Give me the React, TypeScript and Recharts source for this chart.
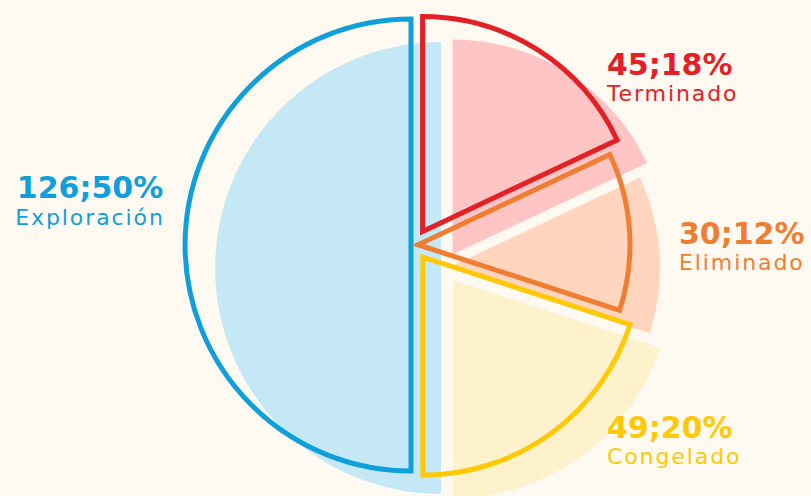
import React from 'react';
import { PieChart, Pie, Cell } from 'recharts';

// status breakdown
const categories = ['Exploración', 'Terminado', 'Eliminado', 'Congelado'];
const counts = [126, 45, 30, 49];
const shares = [50, 18, 12, 20];

const data = categories.map((name, i) => ({ name, count: counts[i], share: shares[i] }));

// styles
const LINE = ['#0fa0dc', '#e42027', '#ef7e32', '#ffc905'];
const FILL = ['#c5e8f6', '#ffc5c5', '#ffd5bd', '#fdf2cb'];
const BG = '#fffaf1';

const CENTER = { x: 414, y: 245 };
const SHADOW = { dx: 30, dy: 23 };
const EXPLODE = [3, 16, 4, 15];
const RADIUS = [226, 215, 212, 218];
const START = 270;
const END = -90;

const LABEL_AT = [
  { x: 90, y: 198, gap: 27, anchor: 'middle' },
  { x: 607, y: 75, gap: 26, anchor: 'start' },
  { x: 679, y: 244, gap: 26, anchor: 'start' },
  { x: 607, y: 438, gap: 26, anchor: 'start' },
];

const total = shares.reduce((a, b) => a + b, 0);

// where each slice gets pushed out to, along its middle angle
const sliceCenter = (i: number) => {
  const before = shares.slice(0, i).reduce((a, b) => a + b, 0);
  const mid = START - (360 * (before + shares[i] / 2)) / total;
  const rad = (mid * Math.PI) / 180;
  return {
    x: CENTER.x + EXPLODE[i] * Math.cos(rad),
    y: CENTER.y - EXPLODE[i] * Math.sin(rad),
  };
};

const makeLabel = (i: number) => (props: any) => {
  if (props.index !== i) return null;
  const p = LABEL_AT[i];
  return (
    <text x={p.x} y={p.y} textAnchor={p.anchor} fill={LINE[i]} fontFamily="DejaVu Sans">
      <tspan x={p.x} fontSize={30} fontWeight={700}>
        {`${counts[i]};${shares[i]}%`}
      </tspan>
      <tspan x={p.x} dy={p.gap} fontSize={22} letterSpacing={1.9}>
        {categories[i]}
      </tspan>
    </text>
  );
};

export default function App() {
  return (
    <div style={{ width: 811, height: 496, background: BG }}>
      <style>{`body{margin:0;background:${BG};}`}</style>
      <PieChart width={811} height={496} margin={{ top: 0, right: 0, bottom: 0, left: 0 }}>
        {/* offset light fills */}
        {categories.map((_, i) => {
          const c = sliceCenter(i);
          return (
            <Pie
              key={`fill-${i}`}
              data={data}
              dataKey="share"
              nameKey="name"
              cx={c.x + SHADOW.dx}
              cy={c.y + SHADOW.dy}
              innerRadius={0}
              outerRadius={RADIUS[i]}
              startAngle={START}
              endAngle={END}
              stroke="none"
              isAnimationActive={false}
            >
              {data.map((_, j) => (
                <Cell key={j} fill={j === i ? FILL[i] : 'none'} stroke="none" />
              ))}
            </Pie>
          );
        })}
        {/* outlined slices on top */}
        {categories.map((_, i) => {
          const c = sliceCenter(i);
          return (
            <Pie
              key={`line-${i}`}
              data={data}
              dataKey="share"
              nameKey="name"
              cx={c.x}
              cy={c.y}
              innerRadius={0}
              outerRadius={RADIUS[i]}
              startAngle={START}
              endAngle={END}
              labelLine={false}
              label={makeLabel(i)}
              isAnimationActive={false}
            >
              {data.map((_, j) => (
                <Cell
                  key={j}
                  fill="none"
                  stroke={j === i ? LINE[i] : 'none'}
                  strokeWidth={5}
                />
              ))}
            </Pie>
          );
        })}
      </PieChart>
    </div>
  );
}
